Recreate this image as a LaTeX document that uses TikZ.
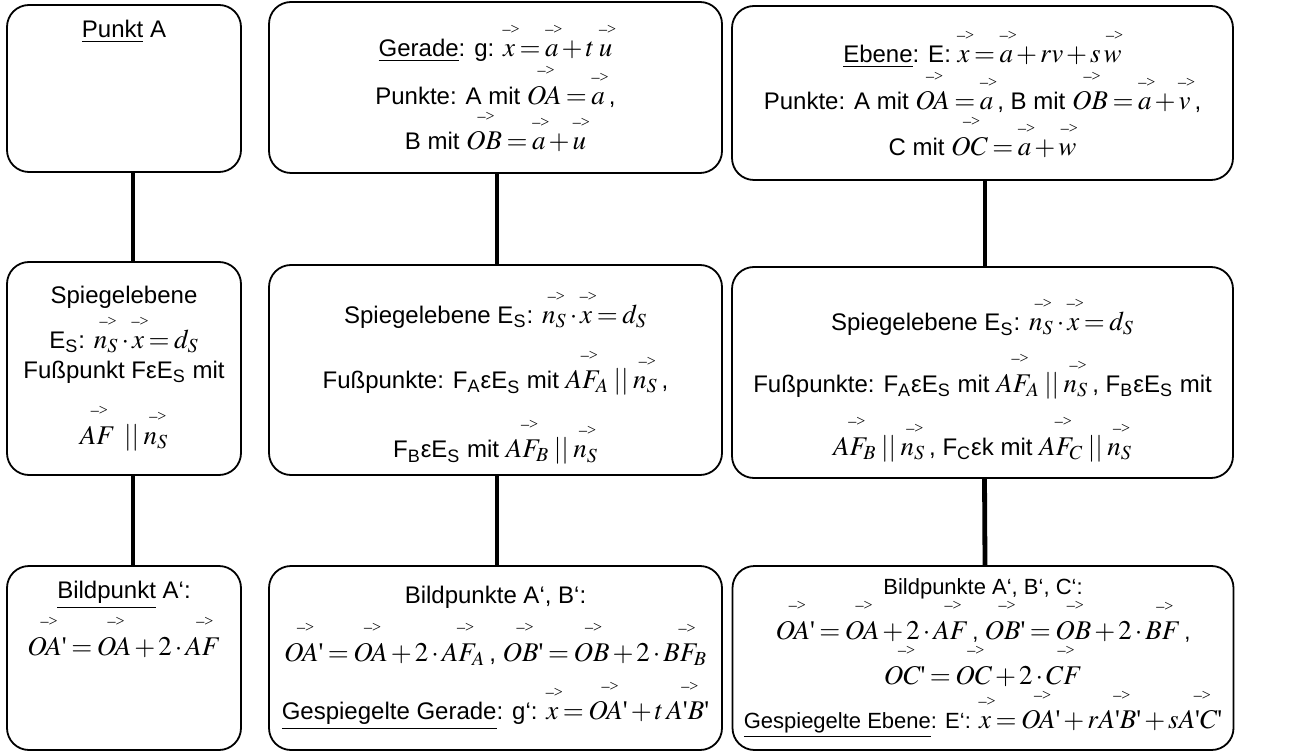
\documentclass[tikz,border=0pt]{standalone}
\usepackage{amsmath}
\usepackage{mathptmx}
\usepackage[no-math]{fontspec}
\setmainfont{Liberation Sans}
\newfontfamily\arrfont{Liberation Serif}
\usetikzlibrary{positioning}

% vector with the little -> on top (no width of its own), the formula size, a plain prime
\newcommand{\vk}[1]{\overset{\raisebox{2.5pt}{\makebox[0pt]{\hspace{2pt}\arrfont\fontsize{8}{8}\selectfont –>}}}{#1}}
\newcommand{\fm}[1]{{\fontsize{13.5}{16}\selectfont\medmuskip=2mu\thickmuskip=3mu$#1$}}
\newcommand{\ap}{\text{\arrfont\char"27}}

\begin{document}
\begin{tikzpicture}[
    x=0.5pt, y=-0.5pt,
    box/.style={draw, line width=0.9pt, rounded corners=11pt, align=center, inner sep=0pt,
                font=\fontsize{12}{16}\selectfont},
    boxtxt/.style={align=center, inner sep=0pt, font=\fontsize{12}{16}\selectfont},
    link/.style={line width=2.4pt},
]
\useasboundingbox (0,0) rectangle (1294,753);

% --- TOP ROW: point, line, plane ---
\node[box, minimum width=117pt, minimum height=83.5pt] (punkt) at (124,88.5) {};
\node[boxtxt, below=8pt of punkt.north] (punkttxt) {\underline{Punkt} A};

\node[box, minimum width=226.5pt, minimum height=85.5pt] (gerade) at (495.5,87.5) {
    \underline{Gerade}: g: \fm{\vk{x} = \vk{a}+t\;\vk{u}}\\[0pt]
    Punkte: A mit \fm{\vk{OA} = \vk{a}}\,,\\[0pt]
    B mit \fm{\vk{OB} = \vk{a}+\vk{u}}
};

\node[box, minimum width=250.5pt, minimum height=87pt] (ebene) at (982.5,93) {
    \underline{Ebene}: E: \fm{\vk{x} = \vk{a}+rv+s\,\vk{w}}\\[0pt]
    Punkte: A mit \fm{\vk{OA} = \vk{a}}\,, B mit \fm{\vk{OB} = \vk{a}+\vk{v}}\,,\\[0pt]
    C mit \fm{\vk{OC} = \vk{a}+\vk{w}}
};

% --- MIDDLE ROW: mirror plane and foot points ---
\node[box, minimum width=117pt, minimum height=106.5pt] (spA) at (124,368.5) {
    Spiegelebene\\[2pt]
    E\textsubscript{S}: \fm{\vk{n_S}\cdot \vk{x} = d_S}\\[-1pt]
    Fußpunkt FεE\textsubscript{S} mit\\[9pt]
    \fm{\vk{AF}\;\;||\;\vk{n_S}}
};

\node[box, minimum width=226.5pt, minimum height=105pt] (spG) at (495.5,370) {
    \rule{0pt}{24pt}Spiegelebene E\textsubscript{S}: \fm{\vk{n_S}\cdot \vk{x} = d_S}\\[9pt]
    Fußpunkte: F\textsubscript{A}εE\textsubscript{S} mit \fm{\vk{AF_A}\;||\;\vk{n_S}}\,,\\[10pt]
    F\textsubscript{B}εE\textsubscript{S} mit \fm{\vk{AF_B}\;||\;\vk{n_S}}
};

\node[box, minimum width=250.5pt, minimum height=105.5pt] (spE) at (982.5,372.5) {
    \rule{0pt}{24pt}Spiegelebene E\textsubscript{S}: \fm{\vk{n_S}\cdot \vk{x} = d_S}\\[7pt]
    Fußpunkte: F\textsubscript{A}εE\textsubscript{S} mit \fm{\vk{AF_A}\;||\;\vk{n_S}}\,, F\textsubscript{B}εE\textsubscript{S} mit\\[7pt]
    \fm{\vk{AF_B}\;||\;\vk{n_S}}\,, F\textsubscript{C}εk mit \fm{\vk{AF_C}\;||\;\vk{n_S}}
};

% --- BOTTOM ROW: image points ---
\node[box, minimum width=117pt, minimum height=92pt] (bildA) at (124,658) {};
\node[boxtxt, below=8pt of bildA.north] (bildAtxt) {
    \underline{Bildpunkt} A‘:\\[2pt]
    \fm{\vk{OA\ap} = \vk{OA}+2\cdot \vk{AF}}
};

\node[box, minimum width=226.5pt, minimum height=92pt] (bildG) at (495.5,658) {
    Bildpunkte A‘, B‘:\\[5pt]
    \fm{\vk{OA\ap} = \vk{OA}+2\cdot \vk{AF_A}}\,, \fm{\vk{OB\ap} = \vk{OB}+2\cdot \vk{BF_B}}\\[6pt]
    \underline{Gespiegelte Gerade}: g‘: \fm{\vk{x} = \vk{OA\ap}+t\,\vk{A\ap B\ap}}
};

\node[box, minimum width=250.5pt, minimum height=92pt, font=\fontsize{11}{15}\selectfont] (bildE) at (983,658) {
    Bildpunkte A‘, B‘, C‘:\\[-1pt]
    \fm{\vk{OA\ap} = \vk{OA}+2\cdot \vk{AF}}\,, \fm{\vk{OB\ap} = \vk{OB}+2\cdot \vk{BF}}\,,\\[0pt]
    \fm{\vk{OC\ap} = \vk{OC}+2\cdot \vk{CF}}\\[0pt]
    \underline{Gespiegelte Ebene}: E‘: \fm{\vk{x} = \vk{OA\ap}+r\vk{A\ap B\ap}+s\vk{A\ap C\ap}}
};

% thick links down each column
\draw[link] ([xshift=4.5pt]punkt.south) -- ([xshift=4.5pt]spA.north);
\draw[link] ([xshift=4.5pt]spA.south) -- ([xshift=4.5pt]bildA.north);
\draw[link] ([xshift=0.75pt]gerade.south) -- ([xshift=0.75pt]spG.north);
\draw[link] ([xshift=0.75pt]spG.south) -- ([xshift=0.75pt]bildG.north);
\draw[link] ([xshift=1.25pt]ebene.south) -- ([xshift=1.25pt]spE.north);
\draw[link] ([xshift=1pt]spE.south) -- ([xshift=1pt]bildE.north);

\end{tikzpicture}
\end{document}
